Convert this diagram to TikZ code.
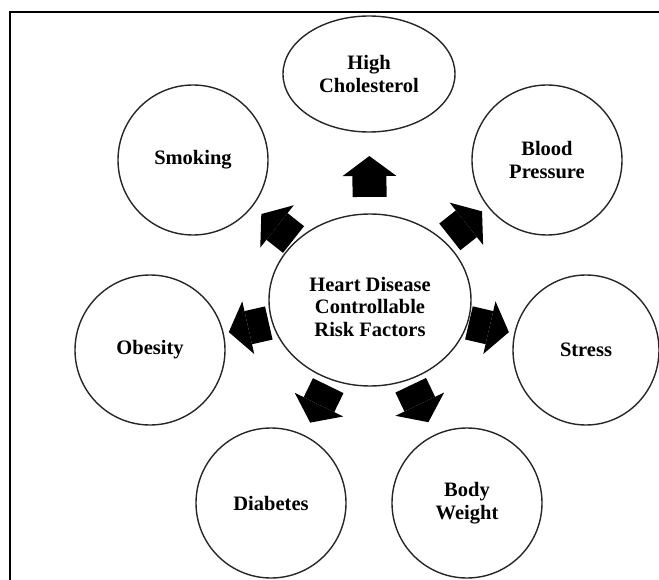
\documentclass[tikz,border=0pt]{standalone}
\usepackage{fontspec}
\setmainfont{Liberation Serif}
\usetikzlibrary{shapes.geometric,arrows.meta,calc}
\tikzset{%
	% Specifications for style of nodes:
	base/.style = {ellipse, draw=black!85, line width=1.4pt, inner sep=0pt,
		minimum width=150pt, minimum height=150pt,
		align=center, font=\bfseries\fontsize{20.5}{22.5}\selectfont},
	hub/.style = {base, minimum width=202pt, minimum height=172pt, text height=73pt},
	wide/.style = {base, minimum width=172pt, minimum height=116pt},
	% block arrows between the bubbles
	blk/.style = {line width=34pt,
		-{Triangle[width=54pt 0, length=20pt 0, line width=0pt 0]}}
}

\begin{document}
\begin{tikzpicture}[x=1pt, y=-1pt]
	\useasboundingbox (0,0) rectangle (659,580);
	\draw[line width=2pt] (659,12) -- (10,12) -- (10,580);
	% Specification of nodes (position, etc.)
	\node (cen)     [hub]  at (370,300) {Heart Disease\\Controllable\\Risk Factors};
	\node (chol)    [wide] at (369,74)  {High\\Cholesterol};
	\node (smoke)   [base] at (193,160) {Smoking};
	\node (press)   [base] at (547,160) {Blood\\Pressure};
	\node (obese)   [base] at (150,350) {Obesity};
	\node (stress)  [base, minimum width=146pt] at (586,350) {Stress};
	\node (diab)    [base] at (271,503) {Diabetes};
	\node (weight)  [base] at (467,503) {Body\\Weight};

	\draw[blk] ($(cen.center)!0.456!(chol.center)$)   -- ($(cen.center)!0.637!(chol.center)$);
	\draw[blk] ($(cen.center)!0.432!(smoke.center)$)  -- ($(cen.center)!0.614!(smoke.center)$);
	\draw[blk] ($(cen.center)!0.451!(press.center)$)  -- ($(cen.center)!0.633!(press.center)$);
	\draw[blk] ($(cen.center)!0.460!(obese.center)$)  -- ($(cen.center)!0.642!(obese.center)$);
	\draw[blk] ($(cen.center)!0.458!(stress.center)$) -- ($(cen.center)!0.643!(stress.center)$);
	\draw[blk] ($(cen.center)!0.422!(diab.center)$)   -- ($(cen.center)!0.604!(diab.center)$);
	\draw[blk] ($(cen.center)!0.420!(weight.center)$) -- ($(cen.center)!0.602!(weight.center)$);
\end{tikzpicture}
\end{document}
